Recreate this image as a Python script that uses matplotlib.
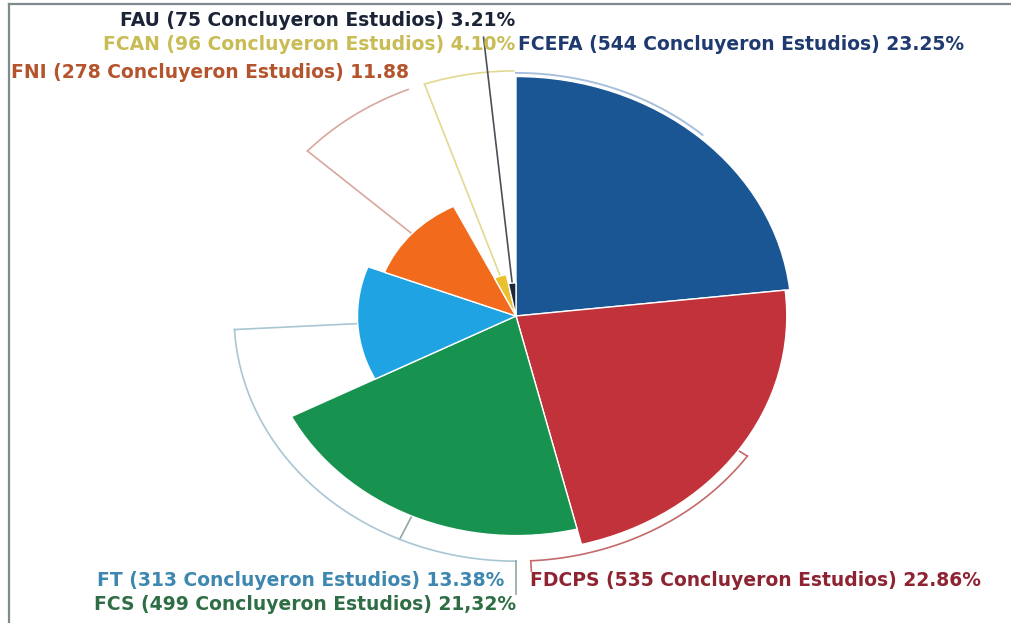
# -*- coding: utf-8 -*-

import numpy as np
import matplotlib
matplotlib.use("Agg")
import matplotlib.pyplot as plt
from matplotlib.lines import Line2D

# data
names = ["FCEFA", "FDCPS", "FCS", "FT", "FNI", "FCAN", "FAU"]
counts = [544, 535, 499, 313, 278, 96, 75]
pct = [23.25, 22.86, 21.32, 13.38, 11.88, 4.10, 3.21]
pct_labels = ["23.25%", "22.86%", "21,32%", "13.38%", "11.88", "4.10%", "3.21%"]

fill_colors = ["#1b5694", "#c2323b", "#17924f", "#1fa3e2", "#f26b1d", "#e9c12e", "#1d2738"]
text_colors = ["#1f3a6e", "#8e2431", "#2f6e45", "#3d87b0", "#b4542c", "#c9bc55", "#1b2436"]
lead_colors = ["#a9c0dc", "#c46a6a", "#8fa8a0", "#a9c6d4", "#d9a6a0", "#e2d98f", "#4a4f58"]

W, H = 1011, 623
CX, CY = 516, 316          # pie centre in pixels (from top)
PX = 10.3                  # vertical pixels per radial unit
SX = 1.15                  # horizontal stretch of the picture
RMAX = 30.0

fig = plt.figure(figsize=(W / 100, H / 100), dpi=100)
half_h = RMAX * PX
half_w = half_h * SX
ax = fig.add_axes([(CX - half_w) / W, 1 - (CY + half_h) / H,
                   2 * half_w / W, 2 * half_h / H], projection="polar")
ax.set_aspect("auto")
ax.set_theta_zero_location("N")
ax.set_theta_direction(-1)
ax.set_ylim(0, RMAX)
ax.axis("off")

frac = np.array(pct) / np.sum(pct)
widths = frac * 2 * np.pi
starts = np.concatenate([[0], np.cumsum(widths)[:-1]])
mids = starts + widths / 2

ax.bar(starts, pct, width=widths, align="edge", color=fill_colors,
       edgecolor="white", linewidth=1.0, zorder=3)


def arc(t0, t1, r, color, lw=1.2):
    t = np.linspace(t0, t1, 80)
    ax.plot(t, np.full_like(t, r), color=color, lw=lw, zorder=2)


def radial(t, r0, r1, color, lw=1.2):
    ax.plot([t, t], [r0, r1], color=color, lw=lw, zorder=2)


deg = np.deg2rad
R = 23.8

# FCEFA: hugs its own edge up to the top
arc(mids[0], 0, 23.6, lead_colors[0], 1.4)
# FDCPS
radial(mids[1], pct[1], R, lead_colors[1])
arc(mids[1], deg(177), R, lead_colors[1])
radial(deg(177), R, 24.8, lead_colors[1])
# FCS and FT share the arc down to the bottom labels
radial(mids[2], pct[2], R, lead_colors[2])
radial(mids[3], pct[3], R, lead_colors[3])
arc(mids[3], deg(180), R, lead_colors[3])
radial(deg(180), R, 27.0, lead_colors[2])
# FNI
radial(mids[4], pct[4], R, lead_colors[4])
arc(mids[4], deg(337.5), R, lead_colors[4])
# FCAN
radial(mids[5], pct[5], R, lead_colors[5])
arc(mids[5], deg(359.5), R, lead_colors[5])
# FAU
radial(mids[6], pct[6], 27.2, lead_colors[6])

# labels (pixel anchors from the reference)
label_pos = {
    "FCEFA": (518, 44, "left"),
    "FDCPS": (530, 580, "left"),
    "FCS": (516, 605, "right"),
    "FT": (504, 580, "right"),
    "FNI": (409, 72, "right"),
    "FCAN": (515, 44, "right"),
    "FAU": (515, 20, "right"),
}
for i, name in enumerate(names):
    x, y, ha = label_pos[name]
    txt = "{} ({} Concluyeron Estudios) {}".format(name, counts[i], pct_labels[i])
    fig.text(x / W, 1 - y / H, txt, ha=ha, va="center", color=text_colors[i],
             fontsize=13.5, fontweight="bold", family="DejaVu Sans", zorder=5)

# frame lines at top and left
fig.add_artist(Line2D([9 / W, 1], [1 - 4 / H, 1 - 4 / H], color="#7f8a8c", lw=1.6))
fig.add_artist(Line2D([9 / W, 9 / W], [0, 1 - 4 / H], color="#7f8a8c", lw=1.6))

fig.savefig("out.png", dpi=100)
